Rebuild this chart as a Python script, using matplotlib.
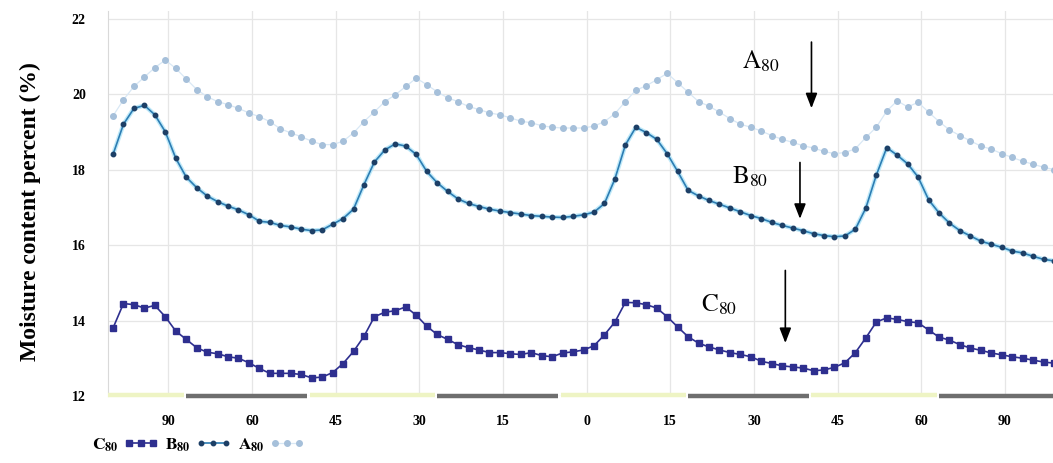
import matplotlib
matplotlib.use("Agg")
import matplotlib.pyplot as plt
from matplotlib.lines import Line2D

plt.rcParams['font.family'] = ['Liberation Serif', 'DejaVu Serif']
plt.rcParams['mathtext.fontset'] = 'stix'

# Moisture content (%) readings, one value per sample
a80 = [19.42, 19.85, 20.2, 20.45, 20.7, 20.9, 20.68, 20.4, 20.12, 19.93,
       19.8, 19.72, 19.62, 19.5, 19.4, 19.27, 19.08, 18.97, 18.87, 18.75,
       18.66, 18.66, 18.75, 18.97, 19.27, 19.53, 19.8, 19.98, 20.2, 20.42,
       20.25, 20.06, 19.9, 19.8, 19.67, 19.59, 19.5, 19.45, 19.37, 19.28,
       19.24, 19.16, 19.12, 19.1, 19.1, 19.1, 19.15, 19.27, 19.48, 19.8,
       20.1, 20.22, 20.38, 20.55, 20.3, 20.05, 19.8, 19.68, 19.52, 19.35,
       19.2, 19.12, 19.02, 18.9, 18.8, 18.72, 18.63, 18.57, 18.48, 18.42,
       18.45, 18.55, 18.85, 19.12, 19.55, 19.82, 19.66, 19.78, 19.52, 19.27,
       19.05, 18.9, 18.76, 18.62, 18.54, 18.42, 18.32, 18.22, 18.14, 18.06,
       18.0]
b80 = [18.4, 19.2, 19.62, 19.7, 19.45, 19.0, 18.3, 17.8, 17.52, 17.3,
       17.15, 17.03, 16.93, 16.8, 16.63, 16.6, 16.52, 16.48, 16.42, 16.38,
       16.4, 16.55, 16.7, 16.95, 17.6, 18.2, 18.52, 18.68, 18.62, 18.4,
       17.95, 17.65, 17.42, 17.22, 17.1, 17.02, 16.95, 16.9, 16.86, 16.82,
       16.78, 16.76, 16.74, 16.73, 16.76, 16.8, 16.87, 17.1, 17.75, 18.65,
       19.12, 18.98, 18.8, 18.42, 17.95, 17.45, 17.3, 17.18, 17.08, 16.98,
       16.88, 16.78, 16.7, 16.6, 16.52, 16.45, 16.38, 16.3, 16.25, 16.22,
       16.24, 16.42, 16.98, 17.85, 18.58, 18.38, 18.15, 17.8, 17.2, 16.85,
       16.58, 16.38, 16.24, 16.1, 16.02, 15.94, 15.84, 15.79, 15.7, 15.62,
       15.58]
c80 = [13.8, 14.45, 14.42, 14.33, 14.4, 14.1, 13.72, 13.5, 13.28, 13.16,
       13.12, 13.04, 13.0, 12.88, 12.73, 12.6, 12.6, 12.6, 12.57, 12.48,
       12.5, 12.62, 12.86, 13.18, 13.58, 14.1, 14.22, 14.26, 14.36, 14.14,
       13.85, 13.63, 13.5, 13.36, 13.28, 13.22, 13.15, 13.15, 13.12, 13.1,
       13.15, 13.07, 13.04, 13.14, 13.17, 13.22, 13.33, 13.62, 13.96, 14.48,
       14.47, 14.42, 14.33, 14.1, 13.83, 13.57, 13.4, 13.3, 13.22, 13.15,
       13.1, 13.04, 12.92, 12.86, 12.8, 12.77, 12.74, 12.67, 12.69, 12.76,
       12.88, 13.15, 13.54, 13.96, 14.07, 14.03, 13.97, 13.94, 13.75, 13.56,
       13.48, 13.36, 13.27, 13.21, 13.14, 13.09, 13.04, 13.0, 12.95, 12.9,
       12.87]

tick_labels = ['90', '60', '45', '30', '15', '0', '15', '30', '45', '60', '90']

# day / night periods along the sample axis
period_edges = [-0.5, 6.8, 18.8, 30.8, 42.8, 54.8, 66.8, 78.8, 90.5]
period_kind = ['day', 'night', 'day', 'night', 'day', 'night', 'day', 'night']

x = list(range(len(a80)))

fig = plt.figure(figsize=(10.53, 4.63), dpi=100)
ax = fig.add_axes([108 / 1053, 67 / 463, 945 / 1053, 385 / 463])

# series
ax.plot(x, a80, color='#d9e8f5', lw=0.9, marker='o', ms=4.0,
        mfc='#a6c0da', mec='#a6c0da', zorder=3)
ax.plot(x, b80, color='#bfe9f9', lw=3.2, zorder=3)
ax.plot(x, b80, color='#2c7db3', lw=1.2, marker='o', ms=3.2,
        mfc='#1d3f66', mec='#1d3f66', zorder=4)
ax.plot(x, c80, color='#2e2f8f', lw=1.2, marker='s', ms=4.5,
        mfc='#2e2f8f', mec='#2e2f8f', zorder=4)

# day / night strip on the base line
for (x0, x1), kind in zip(zip(period_edges[:-1], period_edges[1:]), period_kind):
    if kind == 'night':
        ax.plot([x0 + 0.2, x1 - 0.2], [12.0, 12.0], color='#6e6e6e', lw=3.2,
                solid_capstyle='butt', zorder=5, clip_on=False)
    else:
        ax.plot([x0, x1], [12.02, 12.02], color='#eef4c4', lw=3.2,
                solid_capstyle='butt', zorder=5, clip_on=False)

# axes styling
grid_pos = [5.3 + 8 * k for k in range(len(tick_labels))]
ax.set_xlim(-0.48, 89.9)
ax.set_ylim(12, 22.2)
ax.set_yticks([12, 14, 16, 18, 20, 22])
ax.set_xticks(grid_pos)
ax.set_xticklabels(tick_labels)
ax.grid(True, color='#e6e6e6', lw=0.9, zorder=0)
ax.tick_params(axis='both', length=0, labelsize=10)
ax.tick_params(axis='y', pad=16)
ax.tick_params(axis='x', pad=14)
for lab in ax.get_xticklabels() + ax.get_yticklabels():
    lab.set_fontweight('bold')
for side in ['top', 'right', 'bottom']:
    ax.spines[side].set_visible(False)
ax.spines['left'].set_color('#d9d9d9')

fig.text(30 / 1053, 1 - 212 / 463, 'Moisture content percent (%)', rotation=90,
         ha='center', va='center', fontsize=17, fontweight='bold')

# arrows pointing at each series
arrow = dict(arrowstyle='-|>,head_width=0.35,head_length=0.9', color='black', lw=1.2)
ax.annotate('', xy=(66.8, 19.55), xytext=(66.8, 21.45), arrowprops=arrow)
ax.annotate('', xy=(65.7, 16.62), xytext=(65.7, 18.26), arrowprops=arrow)
ax.annotate('', xy=(64.3, 13.33), xytext=(64.3, 15.4), arrowprops=arrow)
ax.text(61.9, 20.86, r'$\mathrm{A}_{80}$', fontsize=18, ha='center', va='center')
ax.text(60.9, 17.81, r'$\mathrm{B}_{80}$', fontsize=18, ha='center', va='center')
ax.text(58.0, 14.41, r'$\mathrm{C}_{80}$', fontsize=18, ha='center', va='center')

# legend at the foot of the figure, labels ahead of markers
handles = [
    Line2D([], [], color='#2e2f8f', lw=1.2, marker='s', ms=4.5),
    Line2D([], [], color='#2c7db3', lw=1.2, marker='o', ms=3.2,
           mfc='#1d3f66', mec='#1d3f66'),
    Line2D([], [], color='#d9e8f5', lw=0.9, marker='o', ms=4.0,
           mfc='#a6c0da', mec='#a6c0da'),
]
labels = [r'$\mathbf{C}_{\mathbf{80}}$', r'$\mathbf{B}_{\mathbf{80}}$',
          r'$\mathbf{A}_{\mathbf{80}}$']
fig.legend(handles, labels, loc='center left', bbox_to_anchor=(76 / 1053, 18 / 463),
           ncol=3, frameon=False, markerfirst=False, fontsize=12.5,
           handlelength=2.0, handletextpad=0.3, columnspacing=0.4, numpoints=3)

fig.savefig('out.png', dpi=100)
